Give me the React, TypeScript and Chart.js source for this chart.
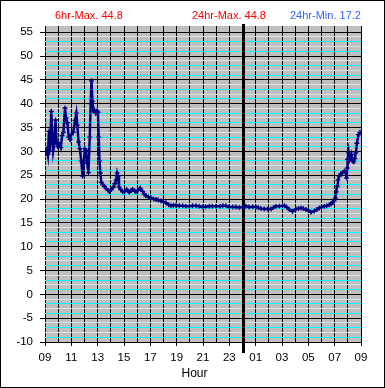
import React, { useEffect, useRef } from 'react';
import { Chart, registerables } from 'chart.js';

Chart.register(...registerables);

// hours since 09:00
const hours = [
  0.0, 0.08, 0.15, 0.22, 0.3, 0.36, 0.42, 0.48, 0.55, 0.62, 0.7, 0.8, 0.88, 0.98,
  1.1, 1.2, 1.3, 1.4, 1.52, 1.6, 1.7, 1.8, 1.9, 2.0, 2.15, 2.28, 2.38, 2.45, 2.55,
  2.65, 2.75, 2.86, 2.95, 3.03, 3.12, 3.2, 3.3, 3.4, 3.47, 3.53, 3.6, 3.68, 3.75,
  3.85, 3.95, 4.02, 4.08, 4.14, 4.2, 4.28, 4.38, 4.5, 4.65, 4.8, 4.9, 5.05, 5.2,
  5.3, 5.4, 5.48, 5.55, 5.62, 5.75, 5.9, 6.05, 6.2, 6.4, 6.55, 6.66, 6.8, 6.91,
  7.05, 7.24, 7.41, 7.55, 7.66, 7.85, 8.05, 8.25, 8.43, 8.6, 8.81, 9.0, 9.19, 9.4,
  9.57, 9.75, 9.94, 10.2, 10.45, 10.7, 10.96, 11.2, 11.46, 11.7, 11.97, 12.2, 12.48,
  12.7, 12.98, 13.3, 13.5, 13.74, 13.99, 14.25, 14.5, 14.75, 15.0, 15.26, 15.5,
  15.77, 16.02, 16.2, 16.4, 16.65, 16.9, 17.16, 17.35, 17.54, 17.8, 18.04, 18.2,
  18.35, 18.55, 18.8, 19.06, 19.25, 19.44, 19.62, 19.82, 20.0, 20.2, 20.45, 20.65,
  20.83, 21.0, 21.21, 21.4, 21.59, 21.75, 21.85, 21.95, 22.05, 22.12, 22.18, 22.25,
  22.35, 22.47, 22.6, 22.73, 22.85, 22.9, 22.95, 22.98, 23.05, 23.1, 23.2, 23.28,
  23.36, 23.45, 23.52, 23.61, 23.69, 23.81, 23.92,
];

const temps = [
  30.0, 29.5, 30.5, 29.3, 34.2, 30.0, 33.0, 38.4, 33.5, 30.0, 31.5, 36.6, 32.0, 31.0,
  31.5, 30.8, 33.3, 34.0, 39.1, 37.0, 36.0, 33.0, 32.5, 33.5, 34.0, 36.5, 38.0, 35.5, 32.0,
  30.5, 28.0, 24.8, 28.0, 30.5, 30.2, 27.5, 25.5, 33.0, 40.0, 44.8, 40.5, 38.5, 38.7,
  38.0, 38.5, 38.2, 33.0, 28.0, 25.5, 23.5, 23.0, 22.7, 22.2, 21.8, 21.6, 22.0, 22.5,
  23.2, 24.0, 25.5, 24.8, 22.5, 22.0, 21.5, 21.6, 22.0, 21.4, 21.8, 22.0, 21.7, 21.6,
  21.8, 22.3, 21.6, 21.0, 20.7, 20.4, 20.2, 20.0, 19.9, 19.8, 19.6, 19.4, 19.2, 18.8,
  18.6, 18.7, 18.7, 18.6, 18.6, 18.5, 18.5, 18.6, 18.6, 18.5, 18.3, 18.4, 18.5,
  18.5, 18.5, 18.5, 18.6, 18.6, 18.3, 18.3, 18.3, 18.2, 18.3, 18.5, 18.3,
  18.4, 18.3, 18.2, 18.0, 17.9, 17.9, 17.9, 18.2, 18.5, 18.5, 18.6, 18.6,
  18.3, 17.8, 17.4, 17.9, 18.0, 18.1, 18.0, 17.8, 17.6, 17.2, 17.5, 17.8,
  18.1, 18.3, 18.5, 18.6, 18.8, 19.0, 19.3, 19.6, 20.2, 21.5, 22.7, 24.0,
  24.8, 25.3, 25.5, 25.8, 25.6, 24.4, 26.5, 28.3, 29.7, 28.0, 28.5, 29.3,
  28.0, 27.8, 28.5, 29.7, 31.7, 33.5, 34.0,
];

const hourLabels = [
  '09', '10', '11', '12', '13', '14', '15', '16', '17', '18', '19', '20', '21',
  '22', '23', '00', '01', '02', '03', '04', '05', '06', '07', '08', '09',
];

const yTickValues = Array.from({ length: 66 }, (_, i) => i - 10);

const headerTexts = ['6hr-Max. 44.8', '24hr-Max. 44.8', '24hr-Min. 17.2'];
const headerColors = ['#ff0000', '#ff0000', '#3366ff'];
const headerX = [55, 192, 290];

const FONT = "'Liberation Sans', Arial, sans-serif";

const decorPlugin = {
  id: 'decor',
  beforeDraw(chart: any) {
    const { ctx, chartArea: a, width, height } = chart;
    ctx.save();
    ctx.fillStyle = '#ffffff';
    ctx.fillRect(0, 0, width, height);
    ctx.fillStyle = '#c0c0c0';
    ctx.fillRect(a.left, a.top, a.right - a.left, a.bottom - a.top);
    ctx.restore();
  },
  beforeDatasetsDraw(chart: any) {
    const { ctx, chartArea: a } = chart;
    ctx.save();
    const mx = Math.round(chart.scales.x.getPixelForValue(15)) + 0.5;
    ctx.strokeStyle = '#000';
    ctx.lineWidth = 3;
    ctx.beginPath();
    ctx.moveTo(mx, 24);
    ctx.lineTo(mx, 353);
    ctx.stroke();
    ctx.restore();
  },
  afterDraw(chart: any) {
    const { ctx, width, height } = chart;
    ctx.save();
    ctx.strokeStyle = '#000';
    ctx.lineWidth = 1;
    ctx.strokeRect(0.5, 0.5, width - 1, height - 1);
    ctx.font = `11px ${FONT}`;
    ctx.textAlign = 'left';
    ctx.textBaseline = 'middle';
    headerTexts.forEach((t, i) => {
      ctx.fillStyle = headerColors[i];
      ctx.fillText(t, headerX[i], 16);
    });
    ctx.fillStyle = '#000';
    ctx.font = `12px ${FONT}`;
    ctx.textAlign = 'center';
    ctx.fillText('Hour', 194.5, 373.5);
    ctx.restore();
  },
};

export default function App() {
  const ref = useRef<HTMLCanvasElement>(null);
  useEffect(() => {
    document.body.style.margin = '0';
    const canvas = ref.current;
    if (!canvas) return;
    const chart = new Chart(canvas, {
      type: 'line',
      data: {
        datasets: [
          {
            data: hours.map((h, i) => ({ x: h, y: temps[i] })),
            borderColor: '#000080',
            borderWidth: 2.5,
            pointStyle: 'cross',
            pointRadius: 2.5,
            pointBorderWidth: 1.3,
            pointBorderColor: '#000080',
            pointBackgroundColor: '#000080',
            tension: 0,
          },
        ],
      },
      options: {
        animation: false,
        responsive: false,
        layout: { padding: { top: 26, right: 24, left: 0, bottom: 0 } },
        plugins: { legend: { display: false }, tooltip: { enabled: false } },
        scales: {
          x: {
            type: 'linear',
            min: 0,
            max: 24,
            z: 0,
            afterFit(s: any) {
              s.height = 46;
            },
            afterBuildTicks(s: any) {
              s.ticks = hourLabels.map((_, i) => ({ value: i }));
            },
            ticks: {
              autoSkip: false,
              maxRotation: 0,
              padding: 5,
              color: '#000',
              font: { family: FONT, size: 11.5 },
              callback: (v: any) => (Number(v) % 2 === 0 ? hourLabels[Number(v)] : ''),
            },
            grid: {
              color: (c: any) => (c.tick && c.tick.value === 15 ? 'rgba(0,0,0,0)' : '#000'),
              lineWidth: 1,
              tickLength: 4,
              tickColor: (c: any) => (c.tick && c.tick.value % 2 === 0 ? '#000' : 'rgba(0,0,0,0)'),
            },
            border: { display: false },
          },
          y: {
            type: 'linear',
            min: -10,
            max: 56.3,
            z: -1,
            afterFit(s: any) {
              s.width = 45;
            },
            afterBuildTicks(s: any) {
              s.ticks = yTickValues.map((v) => ({ value: v }));
            },
            ticks: {
              autoSkip: false,
              padding: 7,
              color: '#000',
              font: { family: FONT, size: 11.5 },
              callback: (v: any) => (Number(v) % 5 === 0 ? String(v) : ''),
            },
            grid: {
              color: (c: any) => {
                const v = c.tick ? c.tick.value : 0;
                const m = ((v % 5) + 5) % 5;
                if (m === 0) return '#000';
                return m % 2 === 1 ? '#00ffff' : '#d6e4e4';
              },
              lineWidth: 1,
              tickLength: 5,
              tickColor: (c: any) => (c.tick && c.tick.value % 5 === 0 ? '#000' : 'rgba(0,0,0,0)'),
            },
            border: { display: false },
          },
        },
      },
      plugins: [decorPlugin],
    } as any);
    return () => chart.destroy();
  }, []);
  return <canvas ref={ref} width={385} height={388} style={{ display: 'block' }} />;
}
